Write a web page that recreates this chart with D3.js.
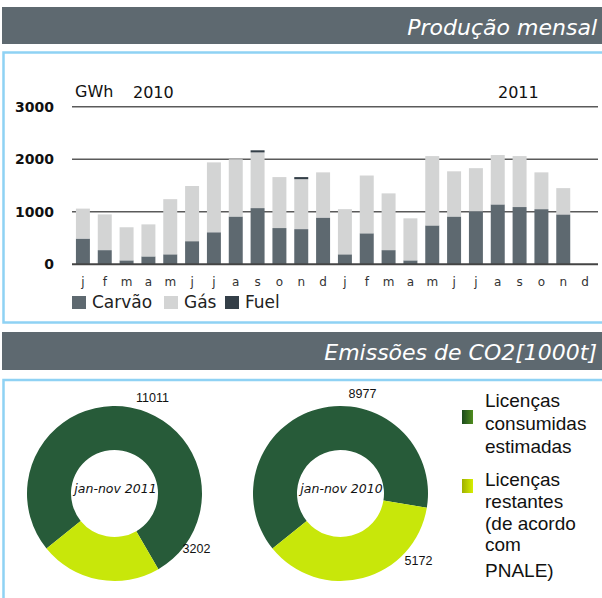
<!DOCTYPE html>
<html>
<head>
<meta charset="utf-8">
<script src="https://cdn.jsdelivr.net/npm/d3@7"></script>
<style>
  body { margin:0; background:#fff; }
  svg { display:block; }
  .axis text { font-family:"DejaVu Sans", sans-serif; }
</style>
</head>
<body>
<div id="chart"></div>
<script>
// --- data ---
const monthLabels = ["j","f","m","a","m","j","j","a","s","o","n","d",
                     "j","f","m","a","m","j","j","a","s","o","n","d"];
const yearLabels = ["2010", "2011"];
const carvao = [490, 270, 75, 150, 190, 440, 610, 910, 1070, 690, 670, 890,
                190, 590, 270, 75, 740, 910, 1010, 1140, 1090, 1050, 950, 0];
const gas    = [570, 680, 630, 610, 1050, 1050, 1330, 1090, 1060, 970, 950, 860,
                860, 1100, 1080, 800, 1320, 860, 820, 940, 970, 700, 500, 0];
const fuel   = [0, 0, 0, 0, 0, 0, 0, 0, 40, 0, 40, 0,
                0, 0, 0, 0, 0, 0, 0, 0, 0, 0, 0, 0];
const yTicks = [0, 1000, 2000, 3000];
const seriesNames = ["Carvão", "Gás", "Fuel"];

const donutPeriods = ["jan-nov 2011", "jan-nov 2010"];
const licencasConsumidas = [11011, 8977];
const licencasRestantes = [3202, 5172];
const donutLegend = [
  ["Licenças", "consumidas", "estimadas"],
  ["Licenças", "restantes", "(de acordo", "com", "PNALE)"]
];

// --- styles ---
const C = {
  header: "#5e6970", frame: "#8fd2f4",
  carvao: "#5e6970", gas: "#d3d4d4", fuel: "#343f48",
  grid: "#5a5a5a", ink: "#111",
  green: "#275b39", lime: "#c8e70a"
};
const sans = '"DejaVu Sans", sans-serif';
const arial = '"Liberation Sans", Arial, sans-serif';

const W = 602, H = 598;
const svg = d3.select("#chart").append("svg").attr("width", W).attr("height", H);

// gradients for the donut legend swatches
const defs = svg.append("defs");
[["gDark", "#1b4a1c", "#4f8c1e"], ["gLime", "#9fb000", "#d6ef00"]].forEach(([id, a, b]) => {
  const lg = defs.append("linearGradient").attr("id", id);
  lg.append("stop").attr("offset", "0%").attr("stop-color", a);
  lg.append("stop").attr("offset", "100%").attr("stop-color", b);
});

// --- section headers and frames ---
function header(y0, h, label) {
  svg.append("rect").attr("x", 2).attr("y", y0).attr("width", W - 2).attr("height", h)
    .attr("fill", C.header);
  svg.append("text").attr("x", 597).attr("y", y0 + 28)
    .attr("text-anchor", "end").attr("fill", "#fff")
    .attr("font-family", sans).attr("font-style", "italic").attr("font-size", 22)
    .text(label);
}
header(7, 37, "Produção mensal");
header(332, 38, "Emissões de CO2[1000t]");

svg.append("rect").attr("x", 3.5).attr("y", 52.5).attr("width", W + 10).attr("height", 270)
  .attr("fill", "none").attr("stroke", C.frame).attr("stroke-width", 2.5);
svg.append("rect").attr("x", 3.5).attr("y", 380).attr("width", W + 10).attr("height", 240)
  .attr("fill", "none").attr("stroke", C.frame).attr("stroke-width", 2.5);

// --- stacked bars ---
const x = d3.scaleBand()
  .domain(d3.range(monthLabels.length))
  .range([72, 596])
  .paddingInner(0.36)
  .paddingOuter(0.18);

const y = d3.scaleLinear().domain([0, 3000]).range([264.3, 106.7]);

const rows = monthLabels.map((m, i) => ({ i, carvao: carvao[i], gas: gas[i], fuel: fuel[i] }));
const stack = d3.stack().keys(["carvao", "gas", "fuel"])(rows);
const fills = { carvao: C.carvao, gas: C.gas, fuel: C.fuel };

const g = svg.append("g");

// gridlines behind the bars
g.selectAll("line.grid")
  .data(yTicks.filter(t => t > 0))
  .join("line")
  .attr("class", "grid")
  .attr("x1", 72).attr("x2", 598)
  .attr("y1", d => y(d)).attr("y2", d => y(d))
  .attr("stroke", C.grid).attr("stroke-width", 1.5);

g.selectAll("g.series")
  .data(stack)
  .join("g")
  .attr("class", "series")
  .attr("fill", d => fills[d.key])
  .selectAll("rect")
  .data(d => d.filter(p => p[1] > p[0]))
  .join("rect")
  .attr("x", d => x(d.data.i))
  .attr("width", x.bandwidth())
  .attr("y", d => y(d[1]))
  .attr("height", d => y(d[0]) - y(d[1]));

// zero line on top
g.append("line")
  .attr("x1", 72).attr("x2", 598)
  .attr("y1", y(0)).attr("y2", y(0))
  .attr("stroke", "#444").attr("stroke-width", 2);

// y tick labels
svg.append("g")
  .attr("class", "axis")
  .attr("transform", "translate(54,0)")
  .call(d3.axisLeft(y).tickValues(yTicks).tickSize(0).tickPadding(0).tickFormat(d3.format("d")))
  .call(a => a.select(".domain").remove())
  .selectAll("text").attr("font-size", 14).attr("font-weight", "bold").attr("fill", C.ink);

// month labels
svg.append("g")
  .attr("class", "axis")
  .attr("transform", "translate(0,277)")
  .call(d3.axisBottom(x).tickSize(0).tickPadding(0).tickFormat(i => monthLabels[i]))
  .call(a => a.select(".domain").remove())
  .selectAll("text").attr("font-size", 12).attr("fill", "#333");

// unit and years
svg.append("text").attr("x", 75).attr("y", 97)
  .attr("font-family", sans).attr("font-size", 16).attr("fill", C.ink).text("GWh");
svg.selectAll("text.year")
  .data(yearLabels)
  .join("text")
  .attr("class", "year")
  .attr("x", (d, k) => k === 0 ? 133 : 498)
  .attr("y", 98)
  .attr("font-family", sans).attr("font-size", 16).attr("fill", C.ink)
  .text(d => d);

// bar legend
const legendX = [72, 164, 225];
const leg = svg.selectAll("g.leg")
  .data(seriesNames)
  .join("g")
  .attr("class", "leg")
  .attr("transform", (d, k) => `translate(${legendX[k]},0)`);
leg.append("rect").attr("x", 0).attr("y", 296).attr("width", 14).attr("height", 13)
  .attr("fill", (d, k) => [C.carvao, C.gas, C.fuel][k]);
leg.append("text").attr("x", 20).attr("y", 308)
  .attr("font-family", sans).attr("font-size", 17).attr("fill", "#222")
  .text(d => d);

// --- donuts ---
const pie = d3.pie().sort(null).value(d => d)
  .startAngle(231 * Math.PI / 180)
  .endAngle((231 + 360) * Math.PI / 180);
const arc = d3.arc().innerRadius(43.5).outerRadius(87.5);

const donutCx = [114.5, 340.5];
const donutCy = 493.5;
// label offsets from the donut centre: [consumidas, restantes]
const labelOffsets = [[[38, -96], [82, 55]], [[22, -100], [78, 67]]];

donutPeriods.forEach((period, k) => {
  const dg = svg.append("g").attr("transform", `translate(${donutCx[k]},${donutCy})`);
  const vals = [licencasConsumidas[k], licencasRestantes[k]];

  dg.selectAll("path")
    .data(pie(vals))
    .join("path")
    .attr("d", arc)
    .attr("fill", (d, j) => j === 0 ? C.green : C.lime);

  dg.append("text")
    .attr("x", 1).attr("y", -5)
    .attr("text-anchor", "middle").attr("dominant-baseline", "central")
    .attr("font-family", sans).attr("font-style", "italic").attr("font-size", 12.5)
    .attr("fill", C.ink)
    .text(period);

  dg.selectAll("text.val")
    .data(vals)
    .join("text")
    .attr("class", "val")
    .attr("x", (d, j) => labelOffsets[k][j][0])
    .attr("y", (d, j) => labelOffsets[k][j][1])
    .attr("text-anchor", "middle").attr("dominant-baseline", "central")
    .attr("font-family", arial).attr("font-size", 12.5).attr("fill", C.ink)
    .text(d => d);
});

// donut legend
const swatchY = [410, 479];
const lineY = [[407, 430, 453], [486, 508, 530, 551, 577]];
donutLegend.forEach((lines, k) => {
  svg.append("rect").attr("x", 462).attr("y", swatchY[k]).attr("width", 11).attr("height", 14)
    .attr("fill", k === 0 ? "url(#gDark)" : "url(#gLime)");
  svg.selectAll(`text.dl${k}`)
    .data(lines)
    .join("text")
    .attr("class", `dl${k}`)
    .attr("x", 485)
    .attr("y", (d, j) => lineY[k][j])
    .attr("font-family", arial).attr("font-size", 19).attr("fill", C.ink)
    .text(d => d);
});
</script>
</body>
</html>
